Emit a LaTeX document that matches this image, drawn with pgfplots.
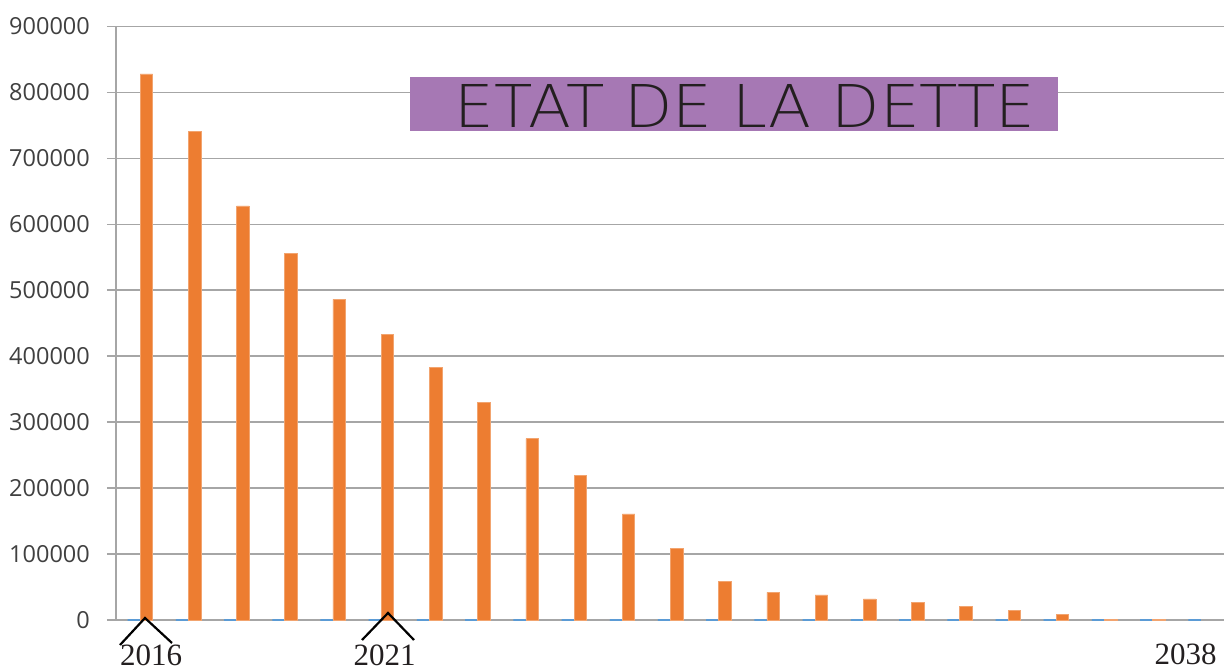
\documentclass[border=0pt]{standalone}
\usepackage{pgfplots}
\pgfplotsset{compat=1.18}
\usepackage{fontspec}
\setmainfont{Open Sans}
\newfontfamily\yearfont{Liberation Serif}
\newfontfamily\titlefont{DejaVu Sans ExtraLight}
\definecolor{barorange}{HTML}{ED7D31}
\definecolor{barblue}{HTML}{5B9BD5}
\definecolor{gridgray}{HTML}{A6A6A6}
\definecolor{ticktext}{HTML}{404040}
\definecolor{titlepurple}{HTML}{A678B4}
\definecolor{darktext}{HTML}{231F20}

\begin{document}
\begin{tikzpicture}[x=1pt,y=1pt]
\useasboundingbox (0,0) rectangle (1224,670);
\begin{axis}[
  at={(116pt,50pt)}, anchor=south west,
  scale only axis, width=1109pt, height=593.6pt,
  xmin=-0.5, xmax=22.5, ymin=0, ymax=900000,
  ybar=0pt, bar width=12.5pt,
  xtick=\empty,
  ytick={0,100000,200000,300000,400000,500000,600000,700000,800000,900000},
  yticklabels={0,100000,200000,300000,400000,500000,600000,700000,800000,900000},
  scaled y ticks=false,
  ymajorgrids, grid style={gridgray, line width=1.5pt},
  axis x line*=bottom, axis y line*=left,
  axis line style={gridgray, line width=1.5pt, -},
  x axis line style={draw=none},
  tick align=outside, major tick length=9pt,
  ytick style={gridgray, line width=1.5pt},
  yticklabel style={font=\fontsize{23.5}{27}\selectfont, text=ticktext, anchor=east, inner sep=0pt, xshift=-17pt},
  clip=false,
]
\addplot[fill=barblue, draw=barblue, line width=1.8pt] coordinates {
 (0,0) (1,0) (2,0) (3,0) (4,0) (5,0) (6,0) (7,0) (8,0) (9,0) (10,0) (11,0)
 (12,0) (13,0) (14,0) (15,0) (16,0) (17,0) (18,0) (19,0) (20,0) (21,0) (22,0)
};
\addplot[fill=barorange, draw=barorange!70!white, line width=0.6pt] coordinates {
 (0,828000) (1,741000) (2,628000) (3,556000) (4,486000) (5,433000) (6,383000)
 (7,330000) (8,275000) (9,219000) (10,161000) (11,108000) (12,58000) (13,42000)
 (14,38000) (15,32000) (16,27000) (17,21000) (18,15000) (19,9000) (20,500) (21,500)
};
\end{axis}
% title box
\fill[titlepurple] (410,539) rectangle (1058,593);
\node[inner sep=0pt, text=darktext] at (745,563.5) {\resizebox{580pt}{43pt}{\titlefont ETAT DE LA DETTE}};
% year annotations
\draw[black, line width=2.2pt] (120,25) -- (145,52) -- (172,27);
\draw[black, line width=2.2pt] (362,30) -- (388,57) -- (414,30);
\node[anchor=base, inner sep=0pt, text=darktext, font=\yearfont\fontsize{31}{35}\selectfont] at (151,5) {2016};
\node[anchor=base, inner sep=0pt, text=darktext, font=\yearfont\fontsize{31}{35}\selectfont] at (384.5,4.5) {2021};
\node[anchor=base, inner sep=0pt, text=darktext, font=\yearfont\fontsize{31}{35}\selectfont] at (1185.5,6) {2038};
\end{tikzpicture}
\end{document}
